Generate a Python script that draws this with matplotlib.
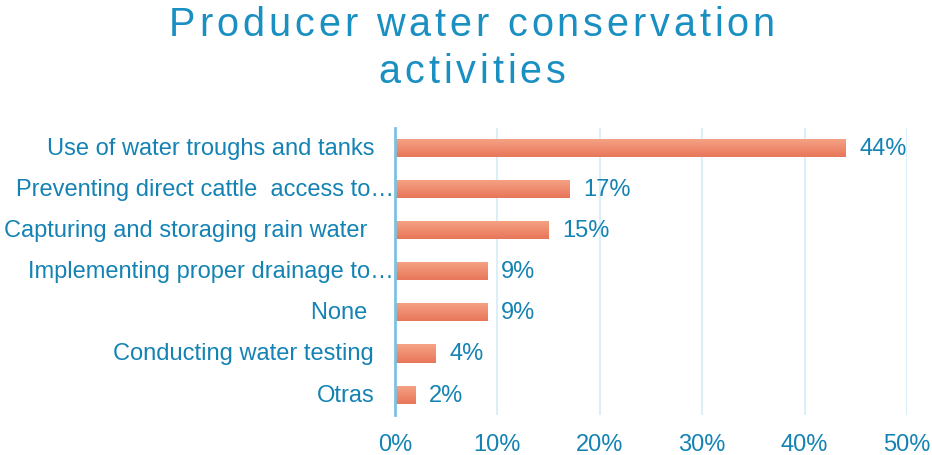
import numpy as np
import matplotlib.pyplot as plt
from matplotlib.colors import LinearSegmentedColormap
from matplotlib.transforms import IdentityTransform

plt.rcParams['font.family'] = ['Liberation Sans', 'DejaVu Sans']

title_lines = ["Producer water conservation", "activities"]
categories = [
    "Use of water troughs and tanks",
    "Preventing direct cattle  access to\u2026",
    "Capturing and storaging rain water ",
    "Implementing proper drainage to\u2026",
    "None ",
    "Conducting water testing",
    "Otras",
]
values = [44, 17, 15, 9, 9, 4, 2]
ticks = [0, 10, 20, 30, 40, 50]

blue = '#1483b4'
title_blue = '#1a8fc2'
bar_cmap = LinearSegmentedColormap.from_list('bar', ['#f6a385', '#e8765a'])

W, H = 932, 456
fig = plt.figure(figsize=(W / 100, H / 100), dpi=100)
ax = fig.add_axes([0.4238, 0.0875, 0.5494, 0.6307])

y = list(range(len(categories)))
bars = ax.barh(y, values, height=0.44, color='none', zorder=3)

# vertical gradient inside each bar
grad = np.linspace(0, 1, 64).reshape(-1, 1)
for b in bars:
    x0, y0 = b.get_x(), b.get_y()
    w, h = b.get_width(), b.get_height()
    im = ax.imshow(grad, cmap=bar_cmap, aspect='auto', zorder=3,
                   extent=[x0, x0 + w, y0 + h, y0], origin='upper')
    im.set_clip_path(b)

for yi, v in zip(y, values):
    ax.annotate(f"{v}%", (v, yi), xytext=(10, 0), textcoords='offset points',
                va='center', ha='left', fontsize=17, color=blue)

# category labels; the truncated ones run up to the axis line
for yi, lab in zip(y, categories):
    dx = -1 if lab.endswith('\u2026') else -15
    ax.annotate(lab, (0, yi), xycoords=('axes fraction', 'data'),
                xytext=(dx, 0), textcoords='offset points',
                va='center', ha='right', fontsize=17, color=blue)

ax.set_xlim(0, 50)
ax.set_ylim(len(categories) - 0.5, -0.5)
ax.set_xticks(ticks)
ax.set_xticklabels([f"{t}%" for t in ticks], fontsize=17, color=blue)
ax.set_yticks([])
ax.tick_params(length=0, pad=13, axis='x')
ax.grid(axis='x', color='#dceef7', linewidth=1.5, zorder=0)
for s in ['top', 'right', 'bottom']:
    ax.spines[s].set_visible(False)
ax.spines['left'].set_color('#7cc2e0')
ax.spines['left'].set_linewidth(2)
ax.spines['left'].set_zorder(4)


# title with extra letter spacing, drawn one character at a time
renderer = fig.canvas.get_renderer()


def text_width(s, size):
    t = fig.text(0, 0, s + "x", fontsize=size, transform=IdentityTransform())
    wx = t.get_window_extent(renderer).width
    t.remove()
    t = fig.text(0, 0, "x", fontsize=size, transform=IdentityTransform())
    wx -= t.get_window_extent(renderer).width
    t.remove()
    return wx


def spaced_line(s, cx, baseline, size, spacing):
    offsets = [text_width(s[:i], size) + i * spacing for i in range(len(s))]
    total = text_width(s, size) + (len(s) - 1) * spacing
    left = cx - total / 2
    for ch, off in zip(s, offsets):
        fig.text(left + off, H - baseline, ch, fontsize=size, color=title_blue,
                 ha='left', va='baseline', transform=IdentityTransform())


spaced_line(title_lines[0], 472, 36, 28.5, 3.9)
spaced_line(title_lines[1], 472, 83, 28.5, 3.9)

fig.savefig('out.png', dpi=100)
